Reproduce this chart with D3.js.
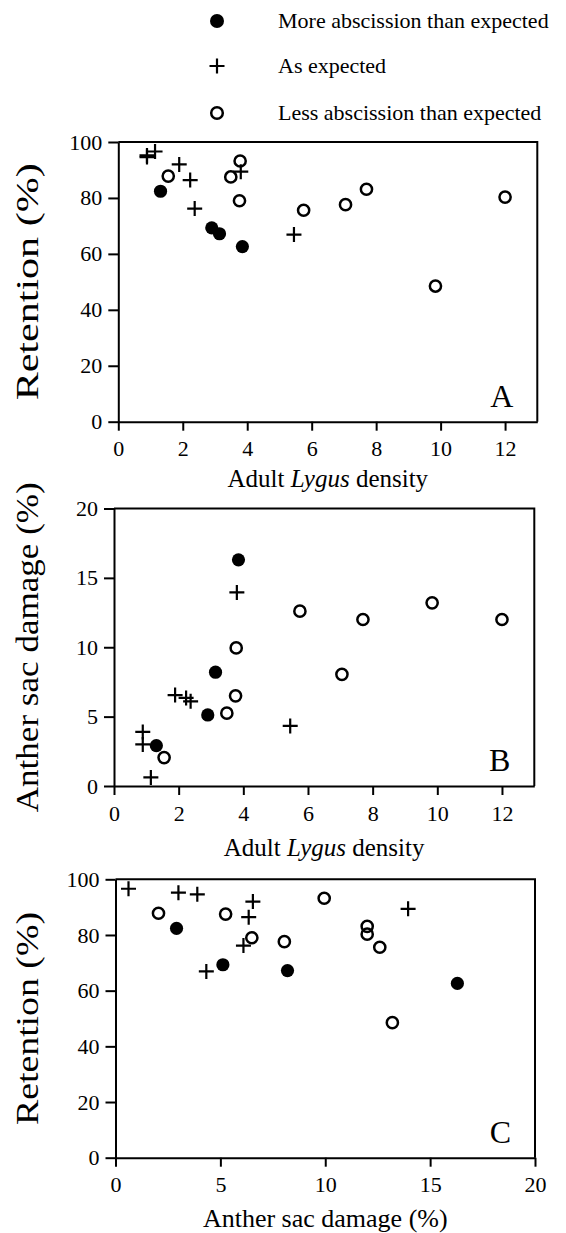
<!DOCTYPE html>
<html>
<head>
<meta charset="utf-8">
<script src="https://cdn.jsdelivr.net/npm/d3@7"></script>
<style>
    body { margin: 0; background: #fff; }
    svg { display: block; }
    svg text { font-family: "Liberation Serif", "Times New Roman", Times, serif; }
</style>
</head>
<body>
<svg id="chart" width="566" height="1233"></svg>
<script>

// one entry per field, split by how the abscission compared to the expectation
var groups = ["more", "as", "less"];
var groupLabels = ["More abscission than expected", "As expected", "Less abscission than expected"];

var moreDensity = [1.31, 2.90, 3.14, 3.85];
var moreDamage = [2.91, 5.12, 8.20, 16.3];
var moreRetention = [82.4, 69.3, 67.2, 62.6];

var asDensity = [0.89, 0.89, 1.14, 1.89, 2.23, 2.37, 3.80, 5.45];
var asDamage = [3.90, 3.00, 0.62, 6.55, 6.35, 6.10, 13.95, 4.33];
var asRetention = [94.6, 95.2, 96.6, 92.0, 86.4, 76.2, 89.4, 66.9];

var lessDensity = [1.55, 3.49, 3.78, 3.76, 5.75, 7.05, 7.70, 9.84, 12.0];
var lessDamage = [2.05, 5.25, 9.95, 6.50, 12.6, 8.05, 12.0, 13.2, 12.0];
var lessRetention = [87.8, 87.5, 93.2, 79.0, 75.6, 77.6, 83.1, 48.5, 80.3];

var densityTicks = [0, 2, 4, 6, 8, 10, 12];
var retentionTicks = [0, 20, 40, 60, 80, 100];
var damageTicksY = [0, 5, 10, 15, 20];
var damageTicksX = [0, 5, 10, 15, 20];

var FONT = "Liberation Serif";

var points = [];
function addGroup(g, dens, dmg, ret) {
    dens.forEach(function (d, i) {
        points.push({ group: g, density: d, damage: dmg[i], retention: ret[i] });
    });
}
addGroup("more", moreDensity, moreDamage, moreRetention);
addGroup("as", asDensity, asDamage, asRetention);
addGroup("less", lessDensity, lessDamage, lessRetention);

var svg = d3.select("#chart").attr("font-family", FONT);

function drawMarker(sel, group, big) {
    if (group == "more") {
        sel.append("circle").attr("r", big ? 7 : 6.6).attr("fill", "#000");
    } else if (group == "as") {
        var s = 7.5;
        sel.append("path")
            .attr("d", "M" + (-s) + ",0H" + s + "M0," + (-s) + "V" + s)
            .attr("stroke", "#000").attr("stroke-width", 2.2).attr("fill", "none");
    } else {
        sel.append("circle").attr("r", big ? 5.8 : 5.6)
            .attr("fill", "none").attr("stroke", "#000").attr("stroke-width", 2.5);
    }
}

// legend
var legend = svg.append("g");
groups.forEach(function (g, i) {
    var row = legend.append("g").attr("transform", "translate(217," + [21, 66, 113][i] + ")");
    drawMarker(row, g, true);
    row.append("text")
        .attr("x", 61).attr("y", 7)
        .attr("font-family", FONT)
        .attr("font-size", 22)
        .text(groupLabels[i]);
});

var panels = [
    { xKey: "density", yKey: "retention", xDomain: [0, 13], yDomain: [0, 100],
      xTicks: densityTicks, yTicks: retentionTicks,
      left: 118.3, right: 537.3, top: 142, bottom: 421.7,
      xLabel: "lygus", xLabelY: 487, yLabel: "Retention (%)", yLabelLen: 237, letter: "A" },
    { xKey: "density", yKey: "damage", xDomain: [0, 13], yDomain: [0, 20],
      xTicks: densityTicks, yTicks: damageTicksY,
      left: 114, right: 534.3, top: 508.5, bottom: 786,
      xLabel: "lygus", xLabelY: 856, yLabel: "Anther sac damage (%)", yLabelLen: 330, letter: "B" },
    { xKey: "damage", yKey: "retention", xDomain: [0, 20], yDomain: [0, 100],
      xTicks: damageTicksX, yTicks: retentionTicks,
      left: 115.5, right: 535, top: 879.3, bottom: 1157.7,
      xLabel: "Anther sac damage (%)", xLabelY: 1226.5, yLabel: "Retention (%)", yLabelLen: 213, letter: "C" }
];

function styleAxis(g) {
    g.attr("font-family", FONT).attr("font-size", 22);
    g.selectAll("path, line").attr("stroke", "#000").attr("stroke-width", 2);
    g.selectAll("text").attr("fill", "#000").attr("font-family", FONT);
}

panels.forEach(function (p) {
    var x = d3.scaleLinear().domain(p.xDomain).range([p.left, p.right]);
    var y = d3.scaleLinear().domain(p.yDomain).range([p.bottom, p.top]);
    var g = svg.append("g");

    g.append("g")
        .attr("transform", "translate(0," + p.bottom + ")")
        .call(d3.axisBottom(x).tickValues(p.xTicks).tickSize(9).tickSizeOuter(0).tickPadding(10))
        .call(styleAxis);

    g.append("g")
        .attr("transform", "translate(" + p.left + ",0)")
        .call(d3.axisLeft(y).tickValues(p.yTicks).tickSize(10).tickSizeOuter(0).tickPadding(6))
        .call(styleAxis);

    // top and right edges of the frame
    g.append("path")
        .attr("d", "M" + x.range()[0] + "," + y.range()[1] + "H" + x.range()[1] + "V" + y.range()[0])
        .attr("fill", "none").attr("stroke", "#000").attr("stroke-width", 2);

    var cx = (p.left + p.right) / 2;
    var xl = g.append("text")
        .attr("x", cx).attr("y", p.xLabelY)
        .attr("text-anchor", "middle")
        .attr("font-family", FONT)
        .attr("font-size", 25);
    if (p.xLabel == "lygus") {
        xl.append("tspan").text("Adult ");
        xl.append("tspan").attr("font-style", "italic").text("Lygus");
        xl.append("tspan").text(" density");
    } else {
        xl.attr("font-size", 26).text(p.xLabel);
    }

    g.append("text")
        .attr("transform", "translate(38," + (p.top + p.bottom) / 2 + ") rotate(-90)")
        .attr("text-anchor", "middle")
        .attr("font-family", FONT)
        .attr("font-size", 31)
        .attr("textLength", p.yLabelLen)
        .attr("lengthAdjust", "spacingAndGlyphs")
        .text(p.yLabel);

    g.append("text")
        .attr("x", p.right - 24).attr("y", p.bottom - 15)
        .attr("text-anchor", "end")
        .attr("font-family", FONT)
        .attr("font-size", 32)
        .text(p.letter);

    g.append("g")
        .selectAll("g")
        .data(points)
        .enter()
        .append("g")
        .attr("transform", function (d) {
            return "translate(" + x(d[p.xKey]) + "," + y(d[p.yKey]) + ")";
        })
        .each(function (d) {
            drawMarker(d3.select(this), d.group, false);
        });
});
</script>
</body>
</html>
